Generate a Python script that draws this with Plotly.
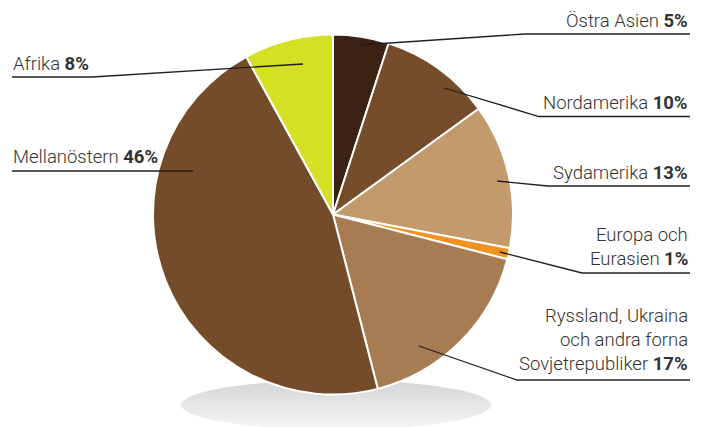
import numpy as np
import plotly.graph_objects as go

W, H = 703, 427

# Share of world oil reserves by region
regions = ["Östra Asien", "Nordamerika", "Sydamerika", "Europa och Eurasien",
           "Ryssland, Ukraina och andra forna Sovjetrepubliker", "Mellanöstern", "Afrika"]
shares = [5, 10, 13, 1, 17, 46, 8]
colors = ["#3b2213", "#754d2a", "#c39a6c", "#f39220", "#a87c52", "#744c29", "#d5df24"]

# label text lines (last line carries the bold percentage)
label_lines = [
    ["Östra Asien"],
    ["Nordamerika"],
    ["Sydamerika"],
    ["Europa och", "Eurasien"],
    ["Ryssland, Ukraina", "och andra forna", "Sovjetrepubliker"],
    ["Mellanöstern"],
    ["Afrika"],
]

# pie geometry in pixels
CX, CY, R = 333, 214.5, 180

def px(x):
    return x / W

def py(y):
    return 1 - y / H

fig = go.Figure()

# soft grey shadow under the pie
t = np.linspace(0, 2 * np.pi, 200)
fig.add_trace(go.Scatter(
    x=336 + 155 * np.cos(t), y=405 + 25 * np.sin(t),
    mode="lines", line=dict(width=0), fill="toself",
    fillgradient=dict(type="vertical",
                      colorscale=[[0, "#f7f7f7"], [1, "#d3d4d6"]]),
    hoverinfo="skip", showlegend=False,
))

fig.add_trace(go.Pie(
    labels=regions, values=shares, sort=False, direction="clockwise",
    rotation=0, textinfo="none", hoverinfo="label+percent",
    marker=dict(colors=colors, line=dict(color="white", width=2)),
    domain=dict(x=[px(CX - R), px(CX + R)], y=[py(CY + R), py(CY - R)]),
    showlegend=False,
))

# label placement: (side, text x, middle y of first line, leader polyline)
placement = [
    ("right", 690, 21.5, [(360, 45), (525, 34), (690, 34)]),
    ("right", 690, 103, [(444, 88), (539, 116.5), (690, 116.5)]),
    ("right", 690, 173, [(497, 181), (548, 186), (690, 186)]),
    ("right", 690, 235, [(500, 252), (582, 273), (690, 273)]),
    ("right", 690, 316, [(419, 346), (517, 380), (690, 380)]),
    ("left", 11, 157, [(12, 171), (193, 171)]),
    ("left", 11, 63.5, [(12, 77), (92, 77), (303, 64)]),
]

LINE_GAP = 24
for lines, share, (side, tx, ty, pts) in zip(label_lines, shares, placement):
    for i, ln in enumerate(lines):
        text = ln
        if i == len(lines) - 1:
            text = f"{ln} <b>{share}%</b>"
        fig.add_annotation(
            x=px(tx), y=py(ty + i * LINE_GAP), xref="paper", yref="paper",
            text=text, showarrow=False,
            xanchor="right" if side == "right" else "left", yanchor="middle",
            font=dict(family="Roboto", size=18.5, weight=300, color="#333333"),
        )
    path = "M " + " L ".join(f"{px(x)},{py(y)}" for x, y in pts)
    fig.add_shape(type="path", path=path, xref="paper", yref="paper",
                  line=dict(color="#231f20", width=1.3), layer="above")

fig.update_layout(
    width=W, height=H, margin=dict(l=0, r=0, t=0, b=0),
    paper_bgcolor="white", plot_bgcolor="white",
    xaxis=dict(range=[0, W], visible=False, domain=[0, 1], fixedrange=True),
    yaxis=dict(range=[H, 0], visible=False, domain=[0, 1], fixedrange=True),
)

fig.write_html("out.html")
